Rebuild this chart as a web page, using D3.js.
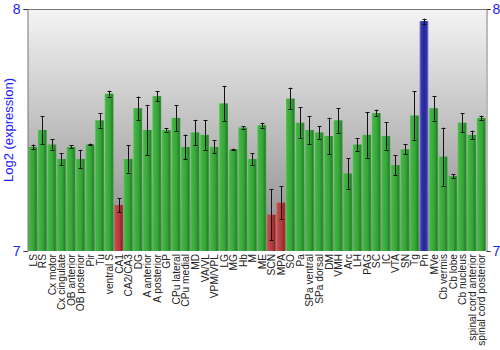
<!DOCTYPE html>
<html><head><meta charset="utf-8">
<script src="https://cdn.jsdelivr.net/npm/d3@7"></script>
<style>body{margin:0;background:#fff}svg{display:block}</style>
</head><body>
<svg id="c" width="500" height="350"></svg>
<script>
const categories = ["LS","RS","Cx motor","Cx cingulate","OB anterior","OB posterior","Pir","Tu","ventral S","CA1","CA2/CA3","DG","A anterior","A posterior","GP","CPu lateral","CPu medial","MD","VA/VL","VPM/VPL","LG","MG","Hb","M","ME","SCN","MPA","SO","Pa","SPa ventral","SPa dorsal","DM","VMH","Arc","LH","PAG","SC","IC","VTA","SN","Tg","Pn","MVe","Cb vermis","Cb lobe","Cb nucleus","spinal cord anterior","spinal cord posterior"];
const values = [7.43,7.50,7.44,7.38,7.43,7.38,7.44,7.54,7.65,7.19,7.38,7.59,7.50,7.64,7.50,7.55,7.43,7.49,7.48,7.43,7.61,7.42,7.51,7.38,7.52,7.15,7.20,7.63,7.53,7.50,7.49,7.475,7.54,7.32,7.44,7.48,7.57,7.475,7.355,7.42,7.56,7.95,7.59,7.39,7.31,7.53,7.48,7.55];
const errors = [0.010,0.058,0.021,0.024,0.006,0.038,0.004,0.030,0.012,0.029,0.056,0.048,0.104,0.020,0.007,0.053,0.051,0.052,0.061,0.027,0.072,0.003,0.005,0.025,0.010,0.106,0.067,0.045,0.063,0.058,0.026,0.076,0.051,0.063,0.025,0.094,0.014,0.056,0.042,0.021,0.100,0.010,0.051,0.120,0.008,0.040,0.017,0.009];
const groups = ["g","g","g","g","g","g","g","g","g","r","g","g","g","g","g","g","g","g","g","g","g","g","g","g","g","r","r","g","g","g","g","g","g","g","g","g","g","g","g","g","g","b","g","g","g","g","g","g"];
const yTicks = [7, 8];
const yTitle = "Log2 (expression)";

const svg = d3.select("#c");
const L = 28, R = 486, T = 9, B = 251;
const x = d3.scaleBand().domain(categories).range([L, R]).paddingInner(0.08).paddingOuter(0.04);
const y = d3.scaleLinear().domain([7, 8]).range([B, T]);

const defs = svg.append("defs");
const bg = defs.append("linearGradient").attr("id","bg").attr("x1",0).attr("y1",0).attr("x2",0).attr("y2",1);
bg.append("stop").attr("offset","0%").attr("stop-color","#f4f4f4");
bg.append("stop").attr("offset","100%").attr("stop-color","#888888");
function grad(id, stops){
  const g = defs.append("linearGradient").attr("id",id).attr("x1",0).attr("y1",0).attr("x2",1).attr("y2",0);
  stops.forEach(s=>g.append("stop").attr("offset",s[0]).attr("stop-color",s[1]));
}
grad("gg",[["0%","#55c455"],["15%","#42b542"],["60%","#36a436"],["85%","#24862a"],["100%","#3a9a3a"]]);
grad("gr",[["0%","#d06060"],["15%","#c44848"],["60%","#b33a3a"],["85%","#922828"],["100%","#a84040"]]);
grad("gb",[["0%","#7a7ad8"],["20%","#3a3aae"],["50%","#262696"],["80%","#3434a8"],["100%","#7a7ad8"]]);
const fills = {g:"url(#gg)", r:"url(#gr)", b:"url(#gb)"};

svg.append("rect").attr("x",L).attr("y",T).attr("width",R-L).attr("height",B-T).attr("fill","url(#bg)");

const data = categories.map((c,i)=>({c, v:values[i], e:errors[i], g:groups[i]}));
svg.append("g").selectAll("rect").data(data).join("rect")
  .attr("x",d=>x(d.c)).attr("y",d=>y(d.v)).attr("width",x.bandwidth()).attr("height",d=>B-y(d.v))
  .attr("fill",d=>fills[d.g]);

const eb = svg.append("g").attr("stroke","#111").attr("stroke-width",1);
data.forEach(d=>{
  const cx = Math.round(x(d.c)+x.bandwidth()/2)+0.5;
  const y1 = y(d.v+d.e), y2 = y(d.v-d.e);
  eb.append("line").attr("x1",cx).attr("x2",cx).attr("y1",y1).attr("y2",y2);
  eb.append("line").attr("x1",cx-2).attr("x2",cx+2).attr("y1",Math.round(y1)+0.5).attr("y2",Math.round(y1)+0.5);
  eb.append("line").attr("x1",cx-2).attr("x2",cx+2).attr("y1",Math.round(y2)+0.5).attr("y2",Math.round(y2)+0.5);
});

// frame
svg.append("line").attr("x1",L).attr("x2",R).attr("y1",T+0.5).attr("y2",T+0.5).attr("stroke","#777");
const axL = d3.axisLeft(y).tickValues(yTicks).tickFormat(d3.format("d")).tickSize(4).tickPadding(3);
const axR = d3.axisRight(y).tickValues(yTicks).tickFormat(d3.format("d")).tickSize(4).tickPadding(2);
const gl = svg.append("g").attr("transform",`translate(${L-0.5},0)`).call(axL);
const gr = svg.append("g").attr("transform",`translate(${R+0.5},0)`).call(axR);
[gl,gr].forEach(g=>{
  g.select(".domain").attr("stroke","#777");
  g.selectAll(".tick line").attr("stroke","#333");
  g.selectAll(".tick text").attr("fill","#1a1aff").attr("font-family","Liberation Sans, Arial, sans-serif").attr("font-size",14);
});

svg.append("text").attr("transform","translate(13,130) rotate(-90)").attr("text-anchor","middle")
  .attr("fill","#1a1aff").attr("font-family","Liberation Sans, Arial, sans-serif").attr("font-size",13).text(yTitle);

svg.append("g").selectAll("text").data(categories).join("text")
  .attr("transform",d=>`translate(${x(d)+x.bandwidth()/2+4},${B+3}) rotate(-90)`)
  .attr("text-anchor","end").attr("fill","#222")
  .attr("font-family","Liberation Sans, Arial, sans-serif").attr("font-size",10.2).text(d=>d);
</script>
</body></html>
